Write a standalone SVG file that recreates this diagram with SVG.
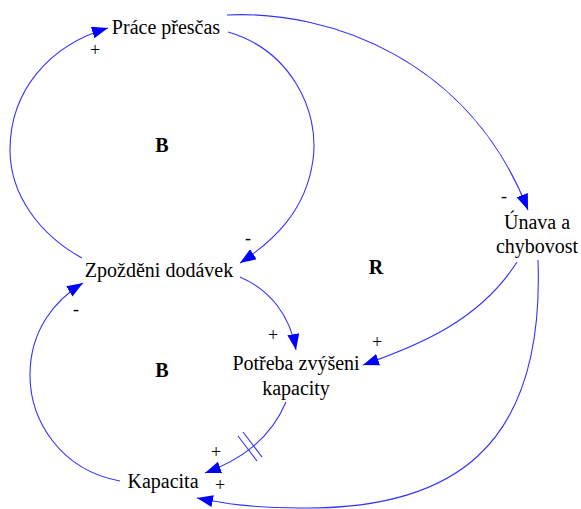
<svg xmlns="http://www.w3.org/2000/svg" width="581" height="509" viewBox="0 0 581 509">
<defs>
<marker id="ah" markerUnits="userSpaceOnUse" markerWidth="18" markerHeight="14" refX="16" refY="6" orient="auto">
<path d="M0,0 L16,6 L0,12 Z" fill="#0000ff"/>
</marker>
<style>
.c{fill:none;stroke:#3333ff;stroke-width:1.1}
</style>
</defs>
<rect width="581" height="509" fill="#fff"/>
<g id="connectors">
<path class="c" marker-end="url(#ah)" d="M228,32 C290,50 320,110 313,160 C306,210 275,240 240,263"/>
<path class="c" marker-end="url(#ah)" d="M82,258 C40,235 10,195 10,150 C10,90 50,45 108,28"/>
<path class="c" marker-end="url(#ah)" d="M120,481 C60,470 30,420 30,375 C30,330 55,300 83,283"/>
<path class="c" marker-end="url(#ah)" d="M240,277 C270,290 290,315 296,350"/>
<path class="c" marker-end="url(#ah)" d="M286,402 C270,440 240,460 205,473"/>
<path class="c" d="M238,436 L257,461 M243,432 L262,457"/>
<path class="c" marker-end="url(#ah)" d="M227,15 C330,10 470,60 528,210"/>
<path class="c" marker-end="url(#ah)" d="M517,262 C480,320 420,345 363,365"/>
<path class="c" marker-end="url(#ah)" d="M538,260 C545,450 450,510 300,508 C250,508 222,503 197,498"/>
</g>
<g id="polarity" style="font-family:'Liberation Serif','Times New Roman',serif;font-size:18px" fill="#000" text-anchor="middle">
<text x="95" y="56">+</text>
<text x="248" y="244">-</text>
<text x="76" y="315">-</text>
<text x="273" y="341">+</text>
<text x="377" y="348">+</text>
<text x="216" y="458">+</text>
<text x="220" y="491">+</text>
<text x="504" y="202">-</text>
</g>
<g id="loops" style="font-family:'Liberation Serif','Times New Roman',serif;font-size:20px;font-weight:bold" fill="#000" text-anchor="middle">
<text x="162" y="152">B</text>
<text x="162" y="377">B</text>
<text x="376" y="274">R</text>
</g>
<g fill="#000" text-anchor="middle" style="font-family:'Liberation Serif','Times New Roman',serif;font-size:20px">
<g id="prace-prescas"><text x="166" y="34">Práce přesčas</text></g>
<g id="zpozdeni-dodavek"><text x="159" y="277">Zpožděni dodávek</text></g>
<g id="potreba-zvyseni-kapacity"><text x="296" y="370">Potřeba zvýšeni</text><text x="296" y="395">kapacity</text></g>
<g id="unava-chybovost"><text x="537" y="229">Únava a</text><text x="537" y="253">chybovost</text></g>
<g id="kapacita"><text x="163" y="488">Kapacita</text></g>
</g>
</svg>
